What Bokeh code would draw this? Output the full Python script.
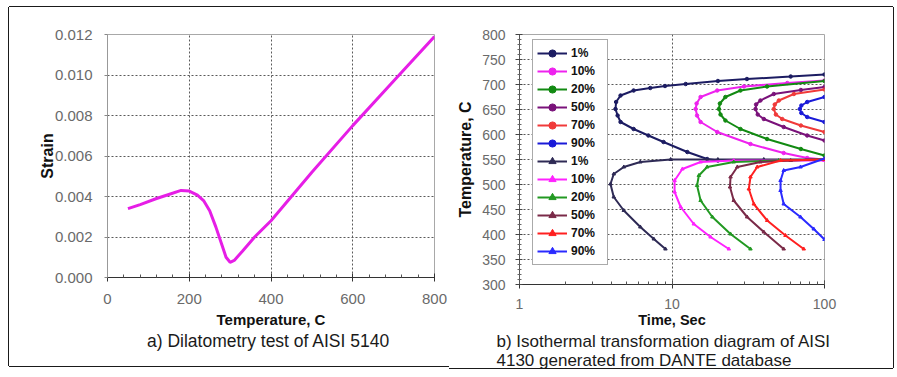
from bokeh.plotting import figure
from bokeh.layouts import row
from bokeh.models import (FixedTicker, NumeralTickFormatter, Title, Legend, LegendItem,
                          Range1d, LogTicker)
from bokeh.embed import file_html
from bokeh.resources import INLINE

# ---------------- data: (a) dilatometry ----------------
temp_c = [50, 80, 120, 150, 180, 200, 220, 235, 250, 265, 280, 290, 300, 310, 330,
          360, 400, 450, 500, 600, 700, 800]
strain = [0.0034, 0.0036, 0.0039, 0.0041, 0.0043, 0.00427, 0.00407, 0.0038, 0.0033,
          0.0025, 0.0016, 0.0010, 0.00075, 0.00084, 0.0013, 0.0020, 0.0028, 0.0040,
          0.0052, 0.0075, 0.0097, 0.0119]
strain_ticks = [0.0, 0.002, 0.004, 0.006, 0.008, 0.010, 0.012]
temp_ticks = [0, 200, 400, 600, 800]

# ---------------- data: (b) isothermal transformation ----------------
# upper (ferrite / pearlite) curves
up1_t = [100, 60, 31, 20, 12.3, 9, 7.2, 5.6, 4.6, 4.3, 4.26, 4.4, 4.6, 5.6, 7, 8.8, 12.6, 17, 20]
up1_T = [720, 716, 711, 707, 701, 697, 693, 688, 678, 665, 651, 638, 625, 611, 598, 585, 565, 551, 548]
up10_t = [100, 57, 29.6, 19.8, 15.4, 14.5, 14.3, 14.6, 15.4, 19.8, 32.7, 54, 77, 100]
up10_T = [708, 703, 696, 688, 675, 662, 651, 638, 625, 605, 581, 563, 553, 550]
up20_t = [100, 42, 28.1, 22.4, 20.6, 20.3, 20.8, 22.4, 28.1, 42, 70, 100]
up20_T = [707, 696, 688, 675, 662, 651, 640, 628, 611, 591, 571, 558]
up50_t = [100, 70, 46.5, 38, 35.6, 35.3, 36.5, 40, 54, 77, 100]
up50_T = [695, 689, 681, 668, 660, 651, 640, 631, 615, 598, 588]
up70_t = [100, 63, 50.2, 47.2, 46.5, 48, 52.8, 70, 100]
up70_T = [690, 681, 668, 660, 651, 640, 631, 618, 605]
up90_t = [100, 77, 70.5, 68.9, 70.5, 77, 100]
up90_T = [675, 665, 658, 651, 643, 635, 625]

# lower (bainite) curves
lo1_t = [100, 40, 20, 9.8, 6.2, 4.83, 4.15, 3.95, 4.15, 4.83, 6.2, 7.6, 9.06]
lo1_T = [550, 550, 550, 550, 545, 535, 521, 501, 475, 448, 415, 391, 371]
lo10_t = [100, 50, 25.4, 15.4, 11.7, 10.4, 10.4, 11.4, 13.9, 17.9, 23.6]
lo10_T = [548, 548, 548, 545, 531, 508, 485, 455, 421, 395, 371]
lo20_t = [100, 50, 25.4, 17, 15.0, 14.6, 15.4, 18.4, 24.2, 32.7]
lo20_T = [550, 548, 545, 535, 518, 498, 468, 435, 401, 371]
lo50_t = [100, 60, 38, 26.8, 24.2, 24.0, 25.4, 31.1, 40, 54]
lo50_T = [550, 548, 545, 535, 515, 495, 468, 435, 405, 371]
lo70_t = [100, 51.5, 36.2, 32.7, 31.9, 34.4, 42.1, 55.5, 73.1]
lo70_T = [550, 548, 535, 515, 491, 461, 428, 398, 371]
lo90_t = [100, 69.6, 54, 51.5, 51.5, 54, 69.6, 85, 100]
lo90_T = [552, 535, 528, 508, 488, 461, 435, 411, 390]

labels = ["1%", "10%", "20%", "50%", "70%", "90%"]
up_colors = ["#1c1c62", "#ee22ee", "#128a12", "#7a127a", "#f03a3a", "#1a1ad8"]
lo_colors = ["#2e2a55", "#ff22ff", "#229922", "#7a2a48", "#ff2020", "#2a2aff"]
T_ticks = [300, 350, 400, 450, 500, 550, 600, 650, 700, 750, 800]

FONT = "Liberation Sans"
GRID = "#5a5a5a"
EDGE = "#1a1a1a"

# ---------------- figure (a) ----------------
p1 = figure(output_backend="svg", toolbar_location=None,
            x_range=Range1d(0, 800), y_range=Range1d(0, 0.012),
            frame_width=327, frame_height=243,
            min_border_left=98, min_border_right=15, min_border_top=27, min_border_bottom=89)
p1.margin = (7, 0, 0, 9)
p1.styles = {"box-shadow": f"-1px 0 0 0 {EDGE}, 0 -1px 0 0 {EDGE}, 0 1px 0 0 {EDGE}"}
p1.outline_line_color = "#a8a8a8"
p1.line(temp_c, strain, line_color="#e61ee6", line_width=3)

p1.xaxis.ticker = FixedTicker(ticks=temp_ticks,
                              minor_ticks=[40, 80, 120, 160, 240, 280, 320, 360, 440, 480,
                                           520, 560, 640, 680, 720, 760])
p1.yaxis.ticker = FixedTicker(ticks=strain_ticks)
p1.yaxis.formatter = NumeralTickFormatter(format="0.000")
p1.xaxis.axis_label = "Temperature, C"
p1.yaxis.axis_label = "Strain"
for ax in (p1.xaxis[0], p1.yaxis[0]):
    ax.major_label_text_font = FONT
    ax.major_label_text_font_size = "15px"
    ax.major_label_text_color = "#6a6a6a"
    ax.axis_label_text_font = FONT
    ax.axis_label_text_font_style = "bold"
    ax.axis_label_text_color = "#111111"
p1.xaxis.axis_label_text_font_size = "15px"
p1.yaxis.axis_label_text_font_size = "16px"
p1.xaxis.axis_line_color = "#333333"
p1.xaxis.major_tick_line_color = "#333333"
p1.xaxis.minor_tick_line_color = "#555555"
p1.xaxis.major_tick_in = 4
p1.xaxis.major_tick_out = 4
p1.xaxis.minor_tick_in = 3
p1.xaxis.minor_tick_out = 0
p1.xaxis.major_label_standoff = 12
p1.xaxis.axis_label_standoff = 4
p1.yaxis.axis_line_color = "#999999"
p1.yaxis.major_tick_line_color = "#888888"
p1.yaxis.major_tick_in = 0
p1.yaxis.major_tick_out = 3
p1.yaxis.minor_tick_line_color = None
p1.yaxis.major_label_standoff = 12
p1.yaxis.axis_label_standoff = -4
for g in (p1.xgrid[0], p1.ygrid[0]):
    g.grid_line_color = GRID
    g.grid_line_dash = "2 2"
    g.grid_line_width = 1
p1.add_layout(Title(text="a)  Dilatometry test of AISI 5140", align="center", offset=-9,
                    text_font=FONT, text_font_size="17.5px", text_font_style="normal",
                    text_color="#1a1a1a", standoff=-3), "below")

# ---------------- figure (b) ----------------
p2 = figure(output_backend="svg", toolbar_location=None, x_axis_type="log",
            x_range=Range1d(1, 100), y_range=Range1d(300, 800),
            frame_width=305, frame_height=250,
            min_border_left=70, min_border_right=69, min_border_top=27, min_border_bottom=82)
p2.margin = (7, 0, 0, 0)
p2.styles = {"box-shadow": f"1px 0 0 0 {EDGE}, 0 -1px 0 0 {EDGE}, 0 1px 0 0 {EDGE}"}
p2.outline_line_color = "#a8a8a8"

up_series = [(up1_t, up1_T), (up10_t, up10_T), (up20_t, up20_T),
             (up50_t, up50_T), (up70_t, up70_T), (up90_t, up90_T)]
lo_series = [(lo1_t, lo1_T), (lo10_t, lo10_T), (lo20_t, lo20_T),
             (lo50_t, lo50_T), (lo70_t, lo70_T), (lo90_t, lo90_T)]

items = []
for (tt, TT), lab, col in zip(up_series, labels, up_colors):
    rl = p2.line(tt, TT, line_color=col, line_width=2)
    rs = p2.scatter(tt, TT, marker="circle", size=3.5, color=col)
    items.append(LegendItem(label=lab, renderers=[rl, rs]))
for (tt, TT), lab, col in zip(lo_series, labels, lo_colors):
    rl = p2.line(tt, TT, line_color=col, line_width=2)
    rs = p2.scatter(tt, TT, marker="triangle", size=3.5, color=col)
    items.append(LegendItem(label=lab, renderers=[rl, rs]))

legend = Legend(items=items, location=(13, 19), orientation="vertical",
                label_text_font=FONT, label_text_font_size="12px", label_text_font_style="bold",
                label_text_color="#111111", glyph_width=30, glyph_height=18, label_height=18,
                label_width=32, label_standoff=4, spacing=0, padding=4, margin=0,
                border_line_color="#555555", border_line_width=1,
                background_fill_color="white", background_fill_alpha=1.0)
p2.add_layout(legend)

p2.xaxis.ticker = LogTicker(num_minor_ticks=10)
p2.xaxis.formatter = NumeralTickFormatter(format="0")
p2.yaxis.ticker = FixedTicker(ticks=T_ticks,
                              minor_ticks=[v for v in range(300, 801, 10) if v % 50 != 0])
p2.xaxis.axis_label = "Time, Sec"
p2.yaxis.axis_label = "Temperature, C"
for ax in (p2.xaxis[0], p2.yaxis[0]):
    ax.major_label_text_font = FONT
    ax.major_label_text_font_size = "14px"
    ax.major_label_text_color = "#6a6a6a"
    ax.axis_label_text_font = FONT
    ax.axis_label_text_font_style = "bold"
    ax.axis_label_text_color = "#111111"
p2.xaxis.axis_label_text_font_size = "14.5px"
p2.yaxis.axis_label_text_font_size = "16px"
p2.xaxis.axis_line_color = "#333333"
p2.xaxis.major_tick_line_color = "#333333"
p2.xaxis.minor_tick_line_color = "#555555"
p2.xaxis.major_tick_in = 4
p2.xaxis.major_tick_out = 4
p2.xaxis.minor_tick_in = 3
p2.xaxis.minor_tick_out = 0
p2.xaxis.major_label_standoff = 10
p2.xaxis.axis_label_standoff = 0
p2.yaxis.axis_line_color = "#555555"
p2.yaxis.major_tick_line_color = "#444444"
p2.yaxis.minor_tick_line_color = "#666666"
p2.yaxis.major_tick_in = 3
p2.yaxis.major_tick_out = 4
p2.yaxis.minor_tick_in = 2
p2.yaxis.minor_tick_out = 2
p2.yaxis.major_label_standoff = 10
p2.yaxis.axis_label_standoff = 5
for g in (p2.xgrid[0], p2.ygrid[0]):
    g.grid_line_color = GRID
    g.grid_line_dash = "2 2"
    g.grid_line_width = 1
p2.add_layout(Title(text="b)  Isothermal transformation diagram of AISI\n4130 generated from DANTE database",
                    align="left", offset=-23, text_line_height=1.0,
                    text_font=FONT, text_font_size="17px", text_font_style="normal",
                    text_color="#1a1a1a", standoff=-2), "below")

layout = row(p1, p2)

with open("out.html", "w") as f:
    f.write(file_html(layout, INLINE))
